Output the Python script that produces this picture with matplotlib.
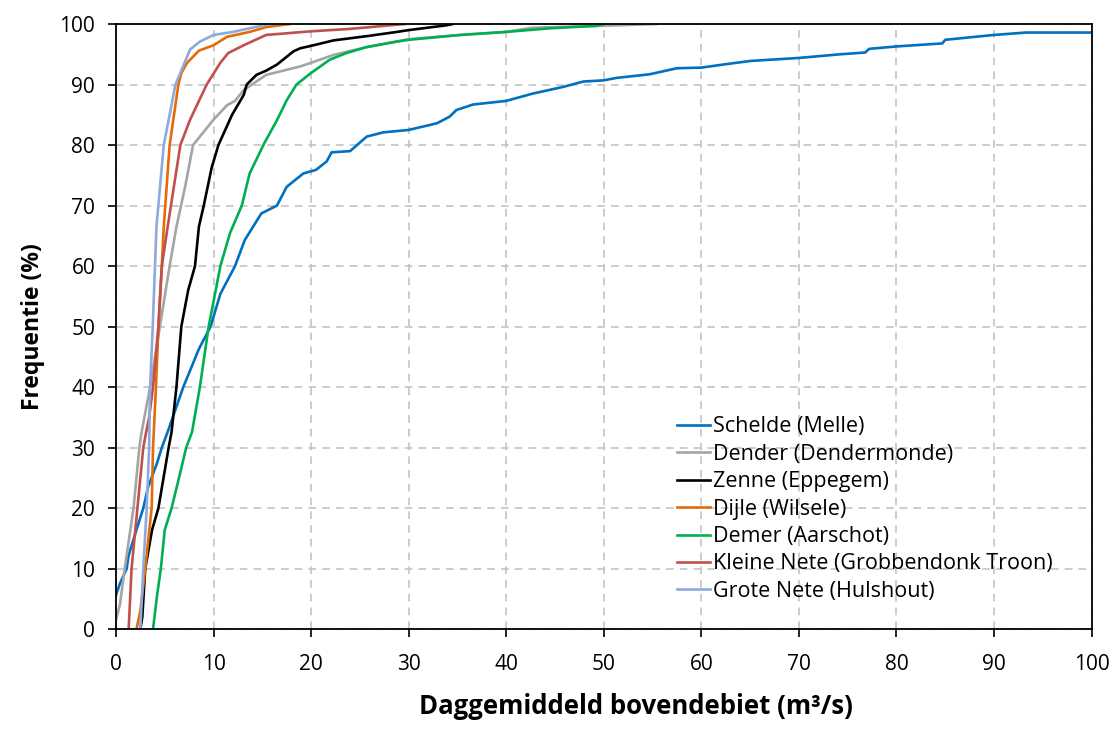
import matplotlib
matplotlib.use('Agg')
import matplotlib.pyplot as plt

plt.rc('font', family=['Open Sans', 'DejaVu Sans'])

# cumulatieve frequentie (%) vs daggemiddeld debiet (m3/s)
schelde_q = [0, 0.4, 1.1, 1.3, 2.1, 2.8, 3.3, 4.2, 4.7, 5.3, 6.9, 8.5, 9.7, 10.7, 12.2, 13.2,
             14.9, 16.5, 17.5, 19.2, 20.5, 21.6, 22.1, 24.0, 25.7, 27.4, 30.0, 32.9, 34.2, 34.9,
             36.6, 40.0, 42.7, 45.8, 47.9, 50.0, 51.3, 54.7, 57.5, 60.0, 62.2, 65.0, 70.0, 74.2,
             76.8, 77.2, 80.0, 84.7, 85.0, 90.0, 93.3, 100.0]
schelde_f = [5.6, 7.5, 10.0, 12.2, 16.4, 20.0, 23.5, 27.4, 30.0, 32.6, 40.0, 46.3, 50.0, 55.4,
             60.0, 64.3, 68.7, 70.0, 73.1, 75.3, 75.9, 77.3, 78.8, 79.0, 81.4, 82.1, 82.5, 83.6,
             84.7, 85.8, 86.7, 87.3, 88.5, 89.6, 90.5, 90.7, 91.1, 91.7, 92.7, 92.8, 93.3, 93.9,
             94.4, 95.0, 95.3, 95.9, 96.3, 96.8, 97.4, 98.2, 98.6, 98.6]

dender_q = [0, 0.4, 0.9, 1.8, 2.4, 2.6, 3.5, 4.5, 5.5, 6.2, 7.1, 7.9, 10.0, 11.4, 12.2, 13.1,
            15.4, 18.9, 20.0, 22.3, 25.7, 30.0, 35.3, 40.0, 42.7, 49.6, 55.4]
dender_f = [1.5, 4.0, 10.0, 20.0, 30.0, 32.3, 40.0, 50.0, 60.0, 66.5, 73.2, 80.0, 84.2, 86.6,
            87.3, 89.1, 91.6, 93.0, 93.6, 94.9, 96.2, 97.5, 98.2, 98.7, 99.4, 99.7, 100.0]

zenne_q = [2.5, 2.7, 3.0, 3.7, 4.35, 5.4, 5.7, 6.2, 6.7, 7.4, 8.1, 8.5, 9.0, 9.8, 10.5, 11.9,
           13.1, 13.4, 14.4, 15.4, 16.5, 18.2, 18.9, 20.0, 22.3, 25.7, 28.8, 30.0, 33.9, 34.5]
zenne_f = [0, 2.0, 10.0, 16.4, 20.0, 30.0, 32.6, 40.0, 50.0, 56.0, 60.0, 66.5, 70.0, 76.2, 80.0,
           85.0, 88.3, 90.0, 91.6, 92.3, 93.3, 95.5, 96.0, 96.4, 97.3, 98.0, 98.7, 99.0, 99.8, 100.0]

dijle_q = [2.1, 2.5, 3.0, 3.66, 3.8, 4.1, 4.35, 4.7, 4.9, 5.5, 6.4, 6.7, 7.3, 8.5, 10.0, 11.4,
           13.7, 15.4, 17.8]
dijle_f = [0, 3.0, 10.0, 20.0, 30.0, 40.0, 50.0, 60.0, 66.5, 80.0, 90.0, 91.9, 93.6, 95.6, 96.5,
           97.9, 98.7, 99.5, 100.0]

demer_q = [3.8, 4.2, 4.6, 5.0, 5.7, 6.4, 7.2, 7.8, 8.6, 9.5, 10.2, 10.7, 11.7, 12.9, 13.7, 15.2,
           16.5, 17.5, 18.5, 19.9, 21.9, 23.6, 25.7, 28.8, 30.0, 35.3, 40.0, 44.5, 49.2, 50.0]
demer_f = [0, 5.4, 10.0, 16.4, 20.0, 24.6, 30.0, 32.6, 40.0, 50.0, 55.8, 60.0, 65.5, 70.0, 75.3,
           80.3, 84.1, 87.4, 90.0, 91.8, 94.1, 95.2, 96.2, 97.1, 97.4, 98.2, 98.7, 99.3, 99.7, 100.0]

kleine_nete_q = [1.3, 1.6, 2.2, 2.8, 3.1, 3.4, 3.8, 4.35, 4.7, 5.3, 6.6, 7.6, 9.3, 10.7, 11.5,
                 13.1, 15.4, 20.0, 24.0, 28.8, 29.6]
kleine_nete_f = [0, 10.0, 20.0, 30.0, 32.6, 35.0, 40.0, 50.0, 60.0, 66.5, 80.0, 84.2, 90.0, 93.6,
                 95.2, 96.5, 98.2, 98.8, 99.2, 99.9, 100.0]

grote_nete_q = [2.5, 2.8, 3.15, 3.4, 3.5, 3.77, 4.0, 4.15, 4.9, 6.1, 7.6, 8.6, 10.0, 12.0, 13.7,
                15.1, 16.0]
grote_nete_f = [0, 10.0, 20.0, 30.0, 40.0, 50.0, 60.0, 66.5, 80.0, 90.0, 95.8, 97.1, 98.2, 98.7,
                99.3, 99.8, 100.0]

series = [
    ('Schelde (Melle)', schelde_q, schelde_f, '#0070C0'),
    ('Dender (Dendermonde)', dender_q, dender_f, '#A5A5A5'),
    ('Zenne (Eppegem)', zenne_q, zenne_f, '#000000'),
    ('Dijle (Wilsele)', dijle_q, dijle_f, '#E36C09'),
    ('Demer (Aarschot)', demer_q, demer_f, '#00B050'),
    ('Kleine Nete (Grobbendonk Troon)', kleine_nete_q, kleine_nete_f, '#C0504D'),
    ('Grote Nete (Hulshout)', grote_nete_q, grote_nete_f, '#8EA9DB'),
]

tick_font = ['Liberation Sans Narrow', 'Open Sans', 'DejaVu Sans']

fig = plt.figure(figsize=(11.15, 7.29), dpi=100)
ax = fig.add_axes([0.104, 0.137, 0.875, 0.830])

for label, q, f, color in series:
    ax.plot(q, f, color=color, linewidth=1.9, label=label)

ax.set_xlim(0, 100)
ax.set_ylim(0, 100)
ax.set_xticks(range(0, 101, 10))
ax.set_yticks(range(0, 101, 10))
ax.grid(True, color='#BFBFBF', linestyle=(0, (5, 4)), linewidth=1.1)
ax.set_axisbelow(True)
ax.tick_params(direction='out', length=6, width=1.2, labelsize=15, pad=9)
ax.tick_params(axis='x', pad=12)
for lbl in ax.get_xticklabels() + ax.get_yticklabels():
    lbl.set_family(tick_font)
for side in ax.spines.values():
    side.set_linewidth(1.3)
    side.set_color('black')

ax.set_xlabel('Daggemiddeld bovendebiet (m³/s)', fontsize=18.5, fontweight='bold')
ax.xaxis.set_label_coords(0.533, -0.106)
ax.set_ylabel('Frequentie (%)', fontsize=16.5, fontweight='bold')
ax.yaxis.set_label_coords(-0.073, 0.5)

leg = ax.legend(loc='lower left', bbox_to_anchor=(0.56, 0.02), frameon=False, fontsize=15.5,
                handlelength=1.5, handletextpad=0.15, labelspacing=0.3, borderaxespad=0.3)

fig.savefig('out.png', dpi=100)
